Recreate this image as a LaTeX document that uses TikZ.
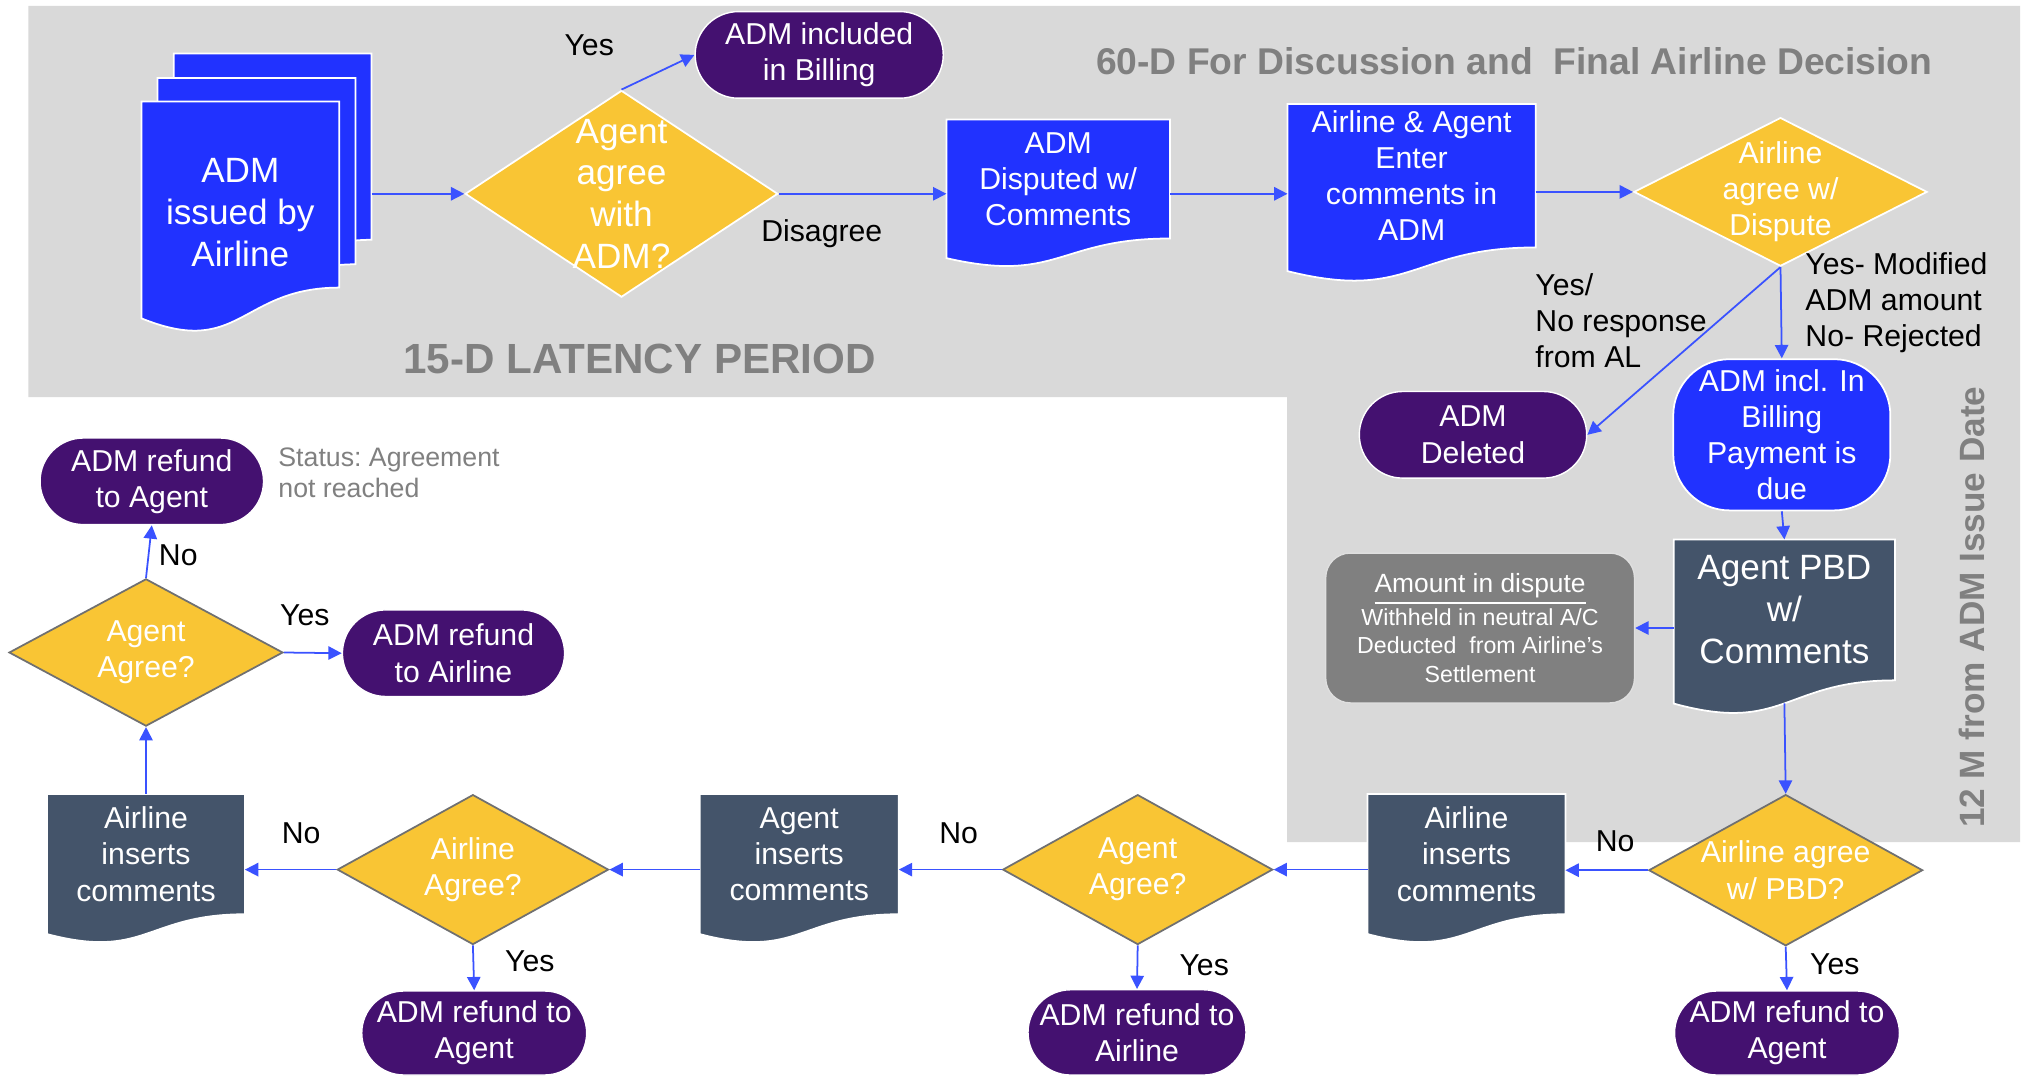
\documentclass[tikz,border=0pt]{standalone}
\usepackage{fontspec}
\setmainfont{Liberation Sans}
\usetikzlibrary{shapes.geometric,shapes.misc,arrows.meta,calc}

\definecolor{admblue}{RGB}{33,50,255}
\definecolor{admgold}{RGB}{249,197,52}
\definecolor{admpurple}{RGB}{68,17,112}
\definecolor{admslate}{RGB}{68,84,106}
\definecolor{panelgray}{RGB}{217,217,217}
\definecolor{headgray}{RGB}{128,128,128}
\definecolor{edgegray}{RGB}{112,112,112}
\definecolor{flowblue}{RGB}{58,82,255}

\pgfdeclarelayer{panel}
\pgfdeclarelayer{docs}
\pgfsetlayers{panel,docs,main}

\newcommand{\lbl}{\fontsize{8.6}{10.3}\selectfont}
\newcommand{\lblbig}{\fontsize{10}{11.9}\selectfont}

% document shape: the node is the straight part, the wave hangs below it
\newcommand{\wavedoc}[2]{%
  \begin{pgfonlayer}{docs}
    \fill[#2, draw=white, line width=0.5pt] (#1.north west) -- (#1.north east) -- (#1.south east)
      .. controls (#1.south) and ($(#1.south)!-0.381!(#1.north)$) .. ($(#1.south west)!-0.165!(#1.north west)$) -- cycle;
  \end{pgfonlayer}
  \coordinate (#1-foot) at ($(#1.south)!-0.1635!(#1.north)$);}

\tikzset{
  flow/.style={draw=flowblue, line width=0.5pt, -{Triangle[length=3.8pt,width=3.8pt]}},
  docbox/.style={rectangle, inner sep=0pt, text=white, align=center, font=\lbl},
  % negative inner sep: the text may run over the edges, the size comes from minimum width/height
  decision/.style={diamond, fill=admgold, draw=#1, line width=0.5pt, inner sep=-12pt, text=white, align=center, font=\lbl},
  decision/.default=white,
  terminal/.style={rounded rectangle, fill=admpurple, draw=white, line width=0.4pt, inner sep=0pt, text=white, align=center, font=\lbl},
  note/.style={text=black, align=left, font=\lbl},
  heading/.style={text=headgray, font=\bfseries\fontsize{10.6}{12}\selectfont},
}

\begin{document}
\begin{tikzpicture}
  \useasboundingbox (0,0) rectangle (20.26,-10.77);

  % grey periods
  \begin{pgfonlayer}{panel}
    \fill[panelgray] (0.284,-0.06) -- (20.2,-0.06) -- (20.2,-8.42) -- (12.87,-8.42) -- (12.87,-3.97) -- (0.284,-3.97) -- cycle;
  \end{pgfonlayer}
  \node[heading] (h60) at (15.143,-0.607) {60-D For Discussion and~ Final Airline Decision};
  \node[heading, font=\bfseries\fontsize{12}{14}\selectfont] (h15) at (6.396,-3.592) {15-D LATENCY PERIOD};
  \node[heading, rotate=90, font=\bfseries\fontsize{10}{12}\selectfont] (h12) at (19.72,-6.073) {12 M from ADM Issue Date};

  % top row
  \node[docbox, minimum width=1.964cm, minimum height=1.848cm] (iss3) at (2.726,-1.467) {};
  \node[docbox, minimum width=1.964cm, minimum height=1.848cm] (iss2) at (2.565,-1.712) {};
  \node[docbox, minimum width=1.964cm, minimum height=1.848cm, font=\lblbig] (iss) at (2.403,-1.945) {\rule{0pt}{17pt}ADM\\issued by\\Airline};
  \wavedoc{iss3}{admblue}
  \wavedoc{iss2}{admblue}
  \wavedoc{iss}{admblue}

  \node[decision, minimum width=3.127cm, minimum height=2.067cm, font=\lblbig] (d1) at (6.215,-1.938) {Agent\\agree\\with\\ADM?};
  \node[terminal, minimum width=2.481cm, minimum height=0.866cm] (t1) at (8.192,-0.549) {ADM included\\in Billing};
  \node[docbox, minimum width=2.222cm, minimum height=1.176cm] (disp) at (10.582,-1.790) {ADM\\Disputed w/\\Comments};
  \wavedoc{disp}{admblue}
  \node[docbox, minimum width=2.468cm, minimum height=1.421cm] (ent) at (14.116,-1.757) {Airline \& Agent\\Enter\\comments in\\ADM};
  \wavedoc{ent}{admblue}
  \node[decision, minimum width=2.933cm, minimum height=1.486cm] (d2) at (17.805,-1.919) {Airline\\agree w/\\Dispute};

  % right column
  \node[terminal, minimum width=2.274cm, minimum height=0.866cm] (del) at (14.730,-4.348) {ADM\\Deleted};
  \node[docbox, fill=admblue, draw=white, line width=0.5pt, rounded corners=16pt, minimum width=2.171cm, minimum height=1.512cm] (bill) at (17.818,-4.348) {ADM incl. In\\Billing\\Payment is\\due};
  \node[docbox, minimum width=2.197cm, minimum height=1.395cm, font=\lblbig] (pbd) at (17.844,-6.099) {Agent PBD\\w/\\Comments};
  \wavedoc{pbd}{admslate}
  \node[docbox, fill=headgray, draw=white!75!headgray, line width=0.4pt, rounded corners=7pt, minimum width=3.088cm, minimum height=1.499cm, font=\fontsize{6.6}{8.1}\selectfont] (amt) at (14.801,-6.280)
    {{\fontsize{7.5}{8.1}\selectfont\underline{Amount in dispute}}\\Withheld in neutral A/C\\Deducted~ from Airline's\\Settlement};

  % bottom row
  \node[decision=edgegray, minimum width=2.739cm, minimum height=1.512cm] (d3) at (17.857,-8.702) {Airline agree\\w/ PBD?};
  \node[terminal, minimum width=2.093cm, minimum height=0.84cm] (r1) at (17.870,-10.330) {ADM refund to\\Agent};
  \node[docbox, minimum width=1.964cm, minimum height=1.189cm] (c1) at (14.665,-8.541) {Airline\\inserts\\comments};
  \wavedoc{c1}{admslate}
  \node[decision=edgegray, minimum width=2.70cm, minimum height=1.499cm] (d4) at (11.377,-8.696) {Agent\\Agree?};
  \node[terminal, minimum width=2.119cm, minimum height=0.853cm] (r2) at (11.370,-10.324) {ADM refund to\\Airline};
  \node[docbox, minimum width=1.977cm, minimum height=1.189cm] (c2) at (7.992,-8.541) {Agent\\inserts\\comments};
  \wavedoc{c2}{admslate}
  \node[decision=edgegray, minimum width=2.713cm, minimum height=1.499cm] (d5) at (4.729,-8.696) {Airline\\Agree?};
  \node[terminal, minimum width=2.119cm, minimum height=0.84cm] (r3) at (4.742,-10.330) {ADM refund to\\Agent};
  \node[docbox, minimum width=1.964cm, minimum height=1.189cm] (c3) at (1.460,-8.541) {Airline\\inserts\\comments};
  \wavedoc{c3}{admslate}

  % left column
  \node[decision=edgegray, minimum width=2.739cm, minimum height=1.473cm] (d6) at (1.460,-6.525) {Agent\\Agree?};
  \node[terminal, minimum width=2.235cm, minimum height=0.866cm] (r4) at (1.518,-4.813) {ADM refund\\to Agent};
  \node[terminal, minimum width=2.222cm, minimum height=0.866cm] (r5) at (4.535,-6.532) {ADM refund\\to Airline};
  \node[note, anchor=west, text=headgray, font=\fontsize{7.6}{8.8}\selectfont] (status) at (2.66,-4.729) {Status:\ Agreement\\not reached};

  % connectors
  \draw[flow] (iss3.east |- d1.west) -- (d1.west);
  \draw[flow] (d1.north) -- (t1.west);
  \draw[flow] (d1.east) -- (d1.east -| disp.west);
  \draw[flow] (disp.east |- d1.east) -- (ent.west |- d1.east);
  \draw[flow] (ent.east |- d2.west) -- (d2.west);
  \draw[flow] (d2.south) -- (bill.north);
  \draw[flow] (d2.south) -- (del.east);
  \draw[flow] (bill.south) -- (pbd.north);
  \draw[flow] (pbd.west |- amt.east) -- (amt.east);
  \draw[flow] (pbd-foot) -- (d3.north);
  \draw[flow] (d3.south) -- (r1.north);
  \draw[flow] (d3.west) -- (d3.west -| c1.east);
  \draw[flow] (c1.west |- d4.east) -- (d4.east);
  \draw[flow] (d4.south) -- (r2.north);
  \draw[flow] (d4.west) -- (d4.west -| c2.east);
  \draw[flow] (c2.west |- d5.east) -- (d5.east);
  \draw[flow] (d5.south) -- (r3.north);
  \draw[flow] (d5.west) -- (d5.west -| c3.east);
  \draw[flow] (c3.north) -- (d6.south);
  \draw[flow] (d6.east) -- (r5.west);
  \draw[flow] (d6.north) -- (r4.south);

  % connector labels
  \node[note] (yes1) at (5.892,-0.452) {Yes};
  \node[note] (dis) at (8.218,-2.339) {Disagree};
  \node[note, anchor=west] (yesno) at (15.23,-3.204) {Yes/\\No response\\from AL};
  \node[note, anchor=west] (yesmod) at (17.93,-3.024) {Yes- Modified\\ADM amount\\No- Rejected};
  \node[note] (no1) at (16.151,-8.412) {No};
  \node[note] (yes2) at (18.348,-9.639) {Yes};
  \node[note] (no2) at (9.587,-8.334) {No};
  \node[note] (yes3) at (12.042,-9.652) {Yes};
  \node[note] (no3) at (3.011,-8.334) {No};
  \node[note] (yes4) at (5.298,-9.613) {Yes};
  \node[note] (no4) at (1.783,-5.556) {No};
  \node[note] (yes5) at (3.049,-6.150) {Yes};
\end{tikzpicture}
\end{document}
